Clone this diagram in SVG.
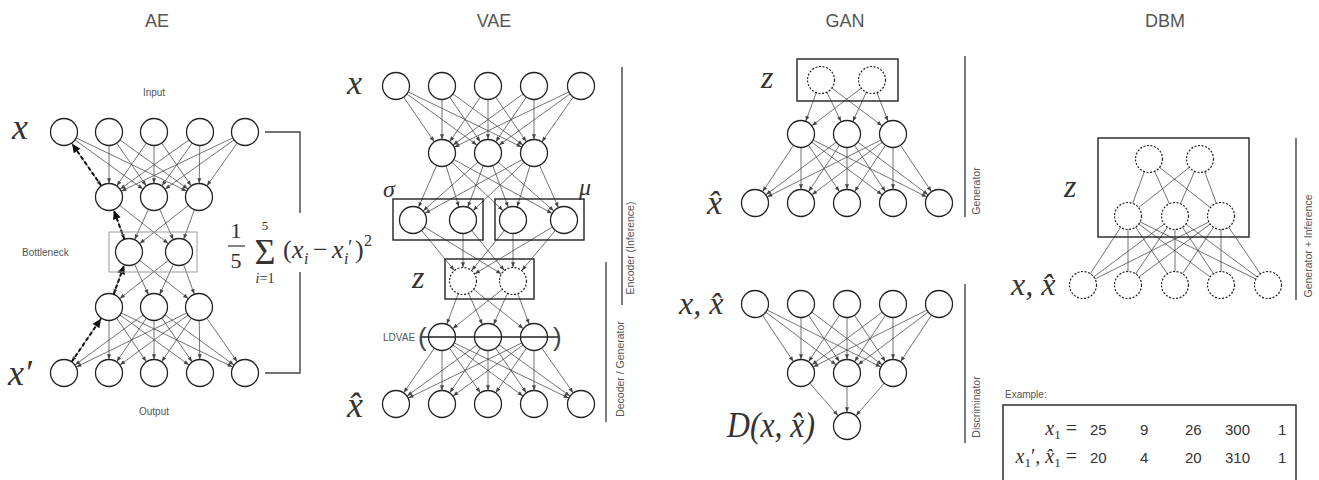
<svg xmlns="http://www.w3.org/2000/svg" width="1319" height="480" viewBox="0 0 1319 480">
<style>
  .c { fill:#fff; stroke:#222; stroke-width:1.3; }
  .cd { fill:#fff; stroke:#222; stroke-width:1.2; stroke-dasharray:2 1.6; }
  .e { stroke:#444; stroke-width:0.75; marker-end:url(#ah); }
  .u { stroke:#444; stroke-width:0.75; }
  .dash { stroke:#111; stroke-width:2; stroke-dasharray:4 2.5; marker-end:url(#ahb); }
  .box { fill:none; stroke:#222; stroke-width:1.4; }
  .sep { stroke:#444; stroke-width:1.4; fill:none; }
  .title { font-family:"Liberation Sans",Arial,sans-serif; font-size:18px; fill:#555; text-anchor:middle; }
  .small { font-family:"Liberation Sans",Arial,sans-serif; font-size:10px; fill:#555; }
  .side { font-family:"Liberation Sans",Arial,sans-serif; font-size:10.5px; fill:#555; text-anchor:middle; }
  .m { font-family:"Liberation Serif","Times New Roman",serif; font-style:italic; fill:#333; }
  .r { font-family:"Liberation Serif","Times New Roman",serif; font-style:normal; fill:#333; }
  .num { font-family:"Liberation Sans",Arial,sans-serif; font-size:15px; fill:#333; }
</style>
<defs>
  <marker id="ah" markerUnits="userSpaceOnUse" orient="auto" refX="13.8" refY="0" markerWidth="10" markerHeight="10" overflow="visible">
    <path d="M0,0 L-5,-2 L-5,2 Z" fill="#444"/>
  </marker>
  <marker id="ahb" markerUnits="userSpaceOnUse" orient="auto" refX="14" refY="0" markerWidth="12" markerHeight="12" overflow="visible">
    <path d="M0,0 L-9,-4 L-9,4 Z" fill="#111"/>
  </marker>
</defs>
<rect width="1319" height="480" fill="#fff"/>

<!-- Section titles -->
<text class="title" x="157" y="27">AE</text>
<text class="title" x="494" y="27">VAE</text>
<text class="title" x="845" y="27">GAN</text>
<text class="title" x="1165" y="27">DBM</text>

<!-- ================= connectors ================= -->
<g id="connectors">
  <!-- AE: input -> hidden -->
  <line class="e" x1="64" y1="132" x2="109" y2="197"/><line class="e" x1="64" y1="132" x2="154" y2="197"/><line class="e" x1="64" y1="132" x2="199" y2="197"/>
  <line class="e" x1="109" y1="132" x2="109" y2="197"/><line class="e" x1="109" y1="132" x2="154" y2="197"/><line class="e" x1="109" y1="132" x2="199" y2="197"/>
  <line class="e" x1="154" y1="132" x2="109" y2="197"/><line class="e" x1="154" y1="132" x2="154" y2="197"/><line class="e" x1="154" y1="132" x2="199" y2="197"/>
  <line class="e" x1="200" y1="132" x2="109" y2="197"/><line class="e" x1="200" y1="132" x2="154" y2="197"/><line class="e" x1="200" y1="132" x2="199" y2="197"/>
  <line class="e" x1="245" y1="132" x2="109" y2="197"/><line class="e" x1="245" y1="132" x2="154" y2="197"/><line class="e" x1="245" y1="132" x2="199" y2="197"/>
  <!-- AE: hidden -> bottleneck -->
  <line class="e" x1="109" y1="197" x2="129" y2="252"/><line class="e" x1="109" y1="197" x2="179" y2="252"/>
  <line class="e" x1="154" y1="197" x2="129" y2="252"/><line class="e" x1="154" y1="197" x2="179" y2="252"/>
  <line class="e" x1="199" y1="197" x2="129" y2="252"/><line class="e" x1="199" y1="197" x2="179" y2="252"/>
  <!-- AE: bottleneck -> hidden -->
  <line class="e" x1="129" y1="252" x2="109" y2="307"/><line class="e" x1="129" y1="252" x2="154" y2="307"/><line class="e" x1="129" y1="252" x2="199" y2="307"/>
  <line class="e" x1="179" y1="252" x2="109" y2="307"/><line class="e" x1="179" y1="252" x2="154" y2="307"/><line class="e" x1="179" y1="252" x2="199" y2="307"/>
  <!-- AE: hidden -> output -->
  <line class="e" x1="109" y1="307" x2="64" y2="373"/><line class="e" x1="109" y1="307" x2="109" y2="373"/><line class="e" x1="109" y1="307" x2="154" y2="373"/><line class="e" x1="109" y1="307" x2="200" y2="373"/><line class="e" x1="109" y1="307" x2="245" y2="373"/>
  <line class="e" x1="154" y1="307" x2="64" y2="373"/><line class="e" x1="154" y1="307" x2="109" y2="373"/><line class="e" x1="154" y1="307" x2="154" y2="373"/><line class="e" x1="154" y1="307" x2="200" y2="373"/><line class="e" x1="154" y1="307" x2="245" y2="373"/>
  <line class="e" x1="199" y1="307" x2="64" y2="373"/><line class="e" x1="199" y1="307" x2="109" y2="373"/><line class="e" x1="199" y1="307" x2="154" y2="373"/><line class="e" x1="199" y1="307" x2="200" y2="373"/><line class="e" x1="199" y1="307" x2="245" y2="373"/>
  <!-- AE: backpropagation path -->
  <line class="dash" x1="64" y1="373" x2="109" y2="307"/>
  <line class="dash" x1="109" y1="307" x2="129" y2="252"/>
  <line class="dash" x1="129" y1="252" x2="109" y2="197"/>
  <line class="dash" x1="109" y1="197" x2="64" y2="132"/>

  <!-- VAE: input -> hidden -->
  <line class="e" x1="396" y1="86" x2="442" y2="153"/><line class="e" x1="396" y1="86" x2="488" y2="153"/><line class="e" x1="396" y1="86" x2="534" y2="153"/>
  <line class="e" x1="442" y1="86" x2="442" y2="153"/><line class="e" x1="442" y1="86" x2="488" y2="153"/><line class="e" x1="442" y1="86" x2="534" y2="153"/>
  <line class="e" x1="488" y1="86" x2="442" y2="153"/><line class="e" x1="488" y1="86" x2="488" y2="153"/><line class="e" x1="488" y1="86" x2="534" y2="153"/>
  <line class="e" x1="534" y1="86" x2="442" y2="153"/><line class="e" x1="534" y1="86" x2="488" y2="153"/><line class="e" x1="534" y1="86" x2="534" y2="153"/>
  <line class="e" x1="581" y1="86" x2="442" y2="153"/><line class="e" x1="581" y1="86" x2="488" y2="153"/><line class="e" x1="581" y1="86" x2="534" y2="153"/>
  <!-- VAE: hidden -> sigma / mu -->
  <line class="e" x1="442" y1="153" x2="413" y2="220"/><line class="e" x1="442" y1="153" x2="463" y2="220"/><line class="e" x1="442" y1="153" x2="513" y2="220"/><line class="e" x1="442" y1="153" x2="564" y2="220"/>
  <line class="e" x1="488" y1="153" x2="413" y2="220"/><line class="e" x1="488" y1="153" x2="463" y2="220"/><line class="e" x1="488" y1="153" x2="513" y2="220"/><line class="e" x1="488" y1="153" x2="564" y2="220"/>
  <line class="e" x1="534" y1="153" x2="413" y2="220"/><line class="e" x1="534" y1="153" x2="463" y2="220"/><line class="e" x1="534" y1="153" x2="513" y2="220"/><line class="e" x1="534" y1="153" x2="564" y2="220"/>
  <!-- VAE: sigma / mu -> z -->
  <line class="e" x1="413" y1="220" x2="463" y2="281"/><line class="e" x1="413" y1="220" x2="513" y2="281"/>
  <line class="e" x1="463" y1="220" x2="463" y2="281"/><line class="e" x1="463" y1="220" x2="513" y2="281"/>
  <line class="e" x1="513" y1="220" x2="463" y2="281"/><line class="e" x1="513" y1="220" x2="513" y2="281"/>
  <line class="e" x1="564" y1="220" x2="463" y2="281"/><line class="e" x1="564" y1="220" x2="513" y2="281"/>
  <!-- VAE: z -> decoder hidden -->
  <line class="e" x1="463" y1="281" x2="442" y2="337"/><line class="e" x1="463" y1="281" x2="488" y2="337"/><line class="e" x1="463" y1="281" x2="534" y2="337"/>
  <line class="e" x1="513" y1="281" x2="442" y2="337"/><line class="e" x1="513" y1="281" x2="488" y2="337"/><line class="e" x1="513" y1="281" x2="534" y2="337"/>
  <!-- VAE: decoder hidden -> output -->
  <line class="e" x1="442" y1="337" x2="396" y2="404"/><line class="e" x1="442" y1="337" x2="442" y2="404"/><line class="e" x1="442" y1="337" x2="488" y2="404"/><line class="e" x1="442" y1="337" x2="534" y2="404"/><line class="e" x1="442" y1="337" x2="581" y2="404"/>
  <line class="e" x1="488" y1="337" x2="396" y2="404"/><line class="e" x1="488" y1="337" x2="442" y2="404"/><line class="e" x1="488" y1="337" x2="488" y2="404"/><line class="e" x1="488" y1="337" x2="534" y2="404"/><line class="e" x1="488" y1="337" x2="581" y2="404"/>
  <line class="e" x1="534" y1="337" x2="396" y2="404"/><line class="e" x1="534" y1="337" x2="442" y2="404"/><line class="e" x1="534" y1="337" x2="488" y2="404"/><line class="e" x1="534" y1="337" x2="534" y2="404"/><line class="e" x1="534" y1="337" x2="581" y2="404"/>

  <!-- GAN generator: z -> hidden -->
  <line class="e" x1="821" y1="80" x2="801" y2="134"/><line class="e" x1="821" y1="80" x2="847" y2="134"/><line class="e" x1="821" y1="80" x2="893" y2="134"/>
  <line class="e" x1="872" y1="80" x2="801" y2="134"/><line class="e" x1="872" y1="80" x2="847" y2="134"/><line class="e" x1="872" y1="80" x2="893" y2="134"/>
  <!-- GAN generator: hidden -> sample -->
  <line class="e" x1="801" y1="134" x2="755" y2="203"/><line class="e" x1="801" y1="134" x2="801" y2="203"/><line class="e" x1="801" y1="134" x2="847" y2="203"/><line class="e" x1="801" y1="134" x2="893" y2="203"/><line class="e" x1="801" y1="134" x2="939" y2="203"/>
  <line class="e" x1="847" y1="134" x2="755" y2="203"/><line class="e" x1="847" y1="134" x2="801" y2="203"/><line class="e" x1="847" y1="134" x2="847" y2="203"/><line class="e" x1="847" y1="134" x2="893" y2="203"/><line class="e" x1="847" y1="134" x2="939" y2="203"/>
  <line class="e" x1="893" y1="134" x2="755" y2="203"/><line class="e" x1="893" y1="134" x2="801" y2="203"/><line class="e" x1="893" y1="134" x2="847" y2="203"/><line class="e" x1="893" y1="134" x2="893" y2="203"/><line class="e" x1="893" y1="134" x2="939" y2="203"/>
  <!-- GAN discriminator: input -> hidden -->
  <line class="e" x1="755" y1="304" x2="801" y2="373"/><line class="e" x1="755" y1="304" x2="847" y2="373"/><line class="e" x1="755" y1="304" x2="893" y2="373"/>
  <line class="e" x1="801" y1="304" x2="801" y2="373"/><line class="e" x1="801" y1="304" x2="847" y2="373"/><line class="e" x1="801" y1="304" x2="893" y2="373"/>
  <line class="e" x1="847" y1="304" x2="801" y2="373"/><line class="e" x1="847" y1="304" x2="847" y2="373"/><line class="e" x1="847" y1="304" x2="893" y2="373"/>
  <line class="e" x1="893" y1="304" x2="801" y2="373"/><line class="e" x1="893" y1="304" x2="847" y2="373"/><line class="e" x1="893" y1="304" x2="893" y2="373"/>
  <line class="e" x1="939" y1="304" x2="801" y2="373"/><line class="e" x1="939" y1="304" x2="847" y2="373"/><line class="e" x1="939" y1="304" x2="893" y2="373"/>
  <!-- GAN discriminator: hidden -> output -->
  <line class="e" x1="801" y1="373" x2="847" y2="426"/><line class="e" x1="847" y1="373" x2="847" y2="426"/><line class="e" x1="893" y1="373" x2="847" y2="426"/>

  <!-- DBM: undirected couplings -->
  <line class="u" x1="1149" y1="159" x2="1128" y2="216"/><line class="u" x1="1149" y1="159" x2="1175" y2="216"/><line class="u" x1="1149" y1="159" x2="1221" y2="216"/>
  <line class="u" x1="1200" y1="159" x2="1128" y2="216"/><line class="u" x1="1200" y1="159" x2="1175" y2="216"/><line class="u" x1="1200" y1="159" x2="1221" y2="216"/>
  <line class="u" x1="1128" y1="216" x2="1083" y2="285"/><line class="u" x1="1128" y1="216" x2="1128" y2="285"/><line class="u" x1="1128" y1="216" x2="1175" y2="285"/><line class="u" x1="1128" y1="216" x2="1221" y2="285"/><line class="u" x1="1128" y1="216" x2="1268" y2="285"/>
  <line class="u" x1="1175" y1="216" x2="1083" y2="285"/><line class="u" x1="1175" y1="216" x2="1128" y2="285"/><line class="u" x1="1175" y1="216" x2="1175" y2="285"/><line class="u" x1="1175" y1="216" x2="1221" y2="285"/><line class="u" x1="1175" y1="216" x2="1268" y2="285"/>
  <line class="u" x1="1221" y1="216" x2="1083" y2="285"/><line class="u" x1="1221" y1="216" x2="1128" y2="285"/><line class="u" x1="1221" y1="216" x2="1175" y2="285"/><line class="u" x1="1221" y1="216" x2="1221" y2="285"/><line class="u" x1="1221" y1="216" x2="1268" y2="285"/>
</g>

<!-- ================= AE ================= -->
<g id="ae-input">
  <circle class="c" cx="64" cy="132" r="13.5"/><circle class="c" cx="109" cy="132" r="13.5"/><circle class="c" cx="154" cy="132" r="13.5"/><circle class="c" cx="200" cy="132" r="13.5"/><circle class="c" cx="245" cy="132" r="13.5"/>
</g>
<g id="ae-hidden1">
  <circle class="c" cx="109" cy="197" r="13.5"/><circle class="c" cx="154" cy="197" r="13.5"/><circle class="c" cx="199" cy="197" r="13.5"/>
</g>
<g id="ae-bottleneck">
  <rect x="109" y="232" width="88" height="40" fill="none" stroke="#999" stroke-width="1"/>
  <circle class="c" cx="129" cy="252" r="13.5"/><circle class="c" cx="179" cy="252" r="13.5"/>
</g>
<g id="ae-hidden2">
  <circle class="c" cx="109" cy="307" r="13.5"/><circle class="c" cx="154" cy="307" r="13.5"/><circle class="c" cx="199" cy="307" r="13.5"/>
</g>
<g id="ae-output">
  <circle class="c" cx="64" cy="373" r="13.5"/><circle class="c" cx="109" cy="373" r="13.5"/><circle class="c" cx="154" cy="373" r="13.5"/><circle class="c" cx="200" cy="373" r="13.5"/><circle class="c" cx="245" cy="373" r="13.5"/>
</g>
<g id="ae-labels">
  <text class="small" x="154" y="96" text-anchor="middle">Input</text>
  <text class="small" x="154" y="415" text-anchor="middle">Output</text>
  <text class="small" x="22" y="256">Bottleneck</text>
  <text class="m" x="12" y="139" font-size="36">x</text>
  <text class="m" x="8" y="385" font-size="36">x′</text>
</g>
<g id="ae-loss">
  <path class="sep" d="M265,132 H300 V213 M300,272 V373 H265"/>
  <text class="r" x="236" y="238" font-size="22" text-anchor="middle">1</text>
  <line x1="228" y1="246" x2="245" y2="246" stroke="#333" stroke-width="1.2"/>
  <text class="r" x="236" y="268" font-size="22" text-anchor="middle">5</text>
  <text class="r" x="265" y="264" font-size="36" text-anchor="middle">Σ</text>
  <text class="r" x="265" y="230" font-size="13" text-anchor="middle">5</text>
  <text class="r" x="265" y="283" font-size="14" text-anchor="middle"><tspan class="m">i</tspan>=1</text>
  <text class="r" x="283" y="258" font-size="26">(</text>
  <text class="m" x="292" y="258" font-size="26">x</text>
  <text class="m" x="304" y="264" font-size="16">i</text>
  <text class="r" x="313" y="258" font-size="26">−</text>
  <text class="m" x="332" y="258" font-size="26">x</text>
  <text class="m" x="344" y="264" font-size="16">i</text>
  <text class="r" x="348" y="254" font-size="20">′</text>
  <text class="r" x="355" y="258" font-size="26">)</text>
  <text class="r" x="364" y="246" font-size="16">2</text>
</g>

<!-- ================= VAE ================= -->
<g id="vae-input">
  <circle class="c" cx="396" cy="86" r="13.5"/><circle class="c" cx="442" cy="86" r="13.5"/><circle class="c" cx="488" cy="86" r="13.5"/><circle class="c" cx="534" cy="86" r="13.5"/><circle class="c" cx="581" cy="86" r="13.5"/>
  <text class="m" x="347" y="94" font-size="34">x</text>
</g>
<g id="vae-hidden1">
  <circle class="c" cx="442" cy="153" r="13.5"/><circle class="c" cx="488" cy="153" r="13.5"/><circle class="c" cx="534" cy="153" r="13.5"/>
</g>
<g id="vae-sigma">
  <rect class="box" x="393" y="199" width="90" height="41"/>
  <circle class="c" cx="413" cy="220" r="13.5"/><circle class="c" cx="463" cy="220" r="13.5"/>
  <text class="m" x="383" y="197" font-size="24">σ</text>
</g>
<g id="vae-mu">
  <rect class="box" x="495" y="199" width="89" height="41"/>
  <circle class="c" cx="513" cy="220" r="13.5"/><circle class="c" cx="564" cy="220" r="13.5"/>
  <text class="m" x="579" y="195" font-size="24">μ</text>
</g>
<g id="vae-z">
  <rect class="box" x="445" y="259" width="89" height="40"/>
  <circle class="cd" cx="463" cy="281" r="13.5"/><circle class="cd" cx="513" cy="281" r="13.5"/>
  <text class="m" x="412" y="288" font-size="32">z</text>
</g>
<g id="vae-ldvae">
  <circle class="c" cx="442" cy="337" r="13.5"/><circle class="c" cx="488" cy="337" r="13.5"/><circle class="c" cx="534" cy="337" r="13.5"/>
  <line x1="420" y1="337" x2="559" y2="337" stroke="#222" stroke-width="1.5"/>
  <text x="418" y="346" font-family="Liberation Sans, Arial, sans-serif" font-size="26" fill="#444">(</text>
  <text x="553" y="346" font-family="Liberation Sans, Arial, sans-serif" font-size="26" fill="#444">)</text>
  <text class="small" x="383" y="341">LDVAE</text>
</g>
<g id="vae-output">
  <circle class="c" cx="396" cy="404" r="13.5"/><circle class="c" cx="442" cy="404" r="13.5"/><circle class="c" cx="488" cy="404" r="13.5"/><circle class="c" cx="534" cy="404" r="13.5"/><circle class="c" cx="581" cy="404" r="13.5"/>
  <text class="m" x="347" y="417" font-size="36">x̂</text>
</g>
<g id="vae-sides">
  <line class="sep" x1="622" y1="67" x2="622" y2="305"/>
  <text class="side" transform="translate(634,248) rotate(-90)">Encoder (Inference)</text>
  <line class="sep" x1="606" y1="262" x2="606" y2="422"/>
  <text class="side" transform="translate(624,369) rotate(-90)">Decoder / Generator</text>
</g>

<!-- ================= GAN ================= -->
<g id="gan-z">
  <rect class="box" x="797" y="59" width="101" height="42"/>
  <circle class="cd" cx="821" cy="80" r="13.5"/><circle class="cd" cx="872" cy="80" r="13.5"/>
  <text class="m" x="761" y="88" font-size="32">z</text>
</g>
<g id="gan-gen-hidden">
  <circle class="c" cx="801" cy="134" r="13.5"/><circle class="c" cx="847" cy="134" r="13.5"/><circle class="c" cx="893" cy="134" r="13.5"/>
</g>
<g id="gan-sample">
  <circle class="c" cx="755" cy="203" r="13.5"/><circle class="c" cx="801" cy="203" r="13.5"/><circle class="c" cx="847" cy="203" r="13.5"/><circle class="c" cx="893" cy="203" r="13.5"/><circle class="c" cx="939" cy="203" r="13.5"/>
  <text class="m" x="707" y="214" font-size="34">x̂</text>
</g>
<g id="gan-disc-input">
  <circle class="c" cx="755" cy="304" r="13.5"/><circle class="c" cx="801" cy="304" r="13.5"/><circle class="c" cx="847" cy="304" r="13.5"/><circle class="c" cx="893" cy="304" r="13.5"/><circle class="c" cx="939" cy="304" r="13.5"/>
  <text class="m" x="679" y="314" font-size="32">x, x̂</text>
</g>
<g id="gan-disc-hidden">
  <circle class="c" cx="801" cy="373" r="13.5"/><circle class="c" cx="847" cy="373" r="13.5"/><circle class="c" cx="893" cy="373" r="13.5"/>
</g>
<g id="gan-disc-output">
  <circle class="c" cx="847" cy="426" r="13.5"/>
  <text class="m" x="727" y="437" font-size="36" textLength="88" lengthAdjust="spacingAndGlyphs">D(x, x̂)</text>
</g>
<g id="gan-sides">
  <line class="sep" x1="965" y1="56" x2="965" y2="217"/>
  <text class="side" transform="translate(980,191) rotate(-90)">Generator</text>
  <line class="sep" x1="965" y1="284" x2="965" y2="443"/>
  <text class="side" transform="translate(980,407) rotate(-90)">Discriminator</text>
</g>

<!-- ================= DBM ================= -->
<g id="dbm-z">
  <rect class="box" x="1098" y="138" width="151" height="99"/>
  <circle class="cd" cx="1149" cy="159" r="13.5"/><circle class="cd" cx="1200" cy="159" r="13.5"/>
  <circle class="cd" cx="1128" cy="216" r="13.5"/><circle class="cd" cx="1175" cy="216" r="13.5"/><circle class="cd" cx="1221" cy="216" r="13.5"/>
  <text class="m" x="1064" y="197" font-size="32">z</text>
</g>
<g id="dbm-visible">
  <circle class="cd" cx="1083" cy="285" r="13.5"/><circle class="cd" cx="1128" cy="285" r="13.5"/><circle class="cd" cx="1175" cy="285" r="13.5"/><circle class="cd" cx="1221" cy="285" r="13.5"/><circle class="cd" cx="1268" cy="285" r="13.5"/>
  <text class="m" x="1011" y="295" font-size="32">x, x̂</text>
</g>
<g id="dbm-side">
  <line class="sep" x1="1296" y1="138" x2="1296" y2="300"/>
  <text class="side" transform="translate(1312,246) rotate(-90)">Generator + Inference</text>
</g>

<!-- ================= Example table ================= -->
<g id="example">
  <text class="small" x="1005" y="398">Example:</text>
  <rect x="1003" y="405" width="293" height="80" fill="none" stroke="#222" stroke-width="1.4"/>
  <text class="r" x="1077" y="435" font-size="20" text-anchor="end"><tspan class="m">x</tspan><tspan font-size="13" dy="4">1</tspan><tspan dy="-4"> =</tspan></text>
  <text class="r" x="1077" y="463" font-size="20" text-anchor="end"><tspan class="m">x</tspan><tspan font-size="13" dy="4">1</tspan><tspan dy="-4">′, </tspan><tspan class="m">x̂</tspan><tspan font-size="13" dy="4">1</tspan><tspan dy="-4"> =</tspan></text>
  <text class="num" x="1090" y="435">25</text><text class="num" x="1140" y="435">9</text><text class="num" x="1185" y="435">26</text><text class="num" x="1225" y="435">300</text><text class="num" x="1278" y="435">1</text>
  <text class="num" x="1090" y="463">20</text><text class="num" x="1140" y="463">4</text><text class="num" x="1185" y="463">20</text><text class="num" x="1225" y="463">310</text><text class="num" x="1278" y="463">1</text>
</g>
</svg>
